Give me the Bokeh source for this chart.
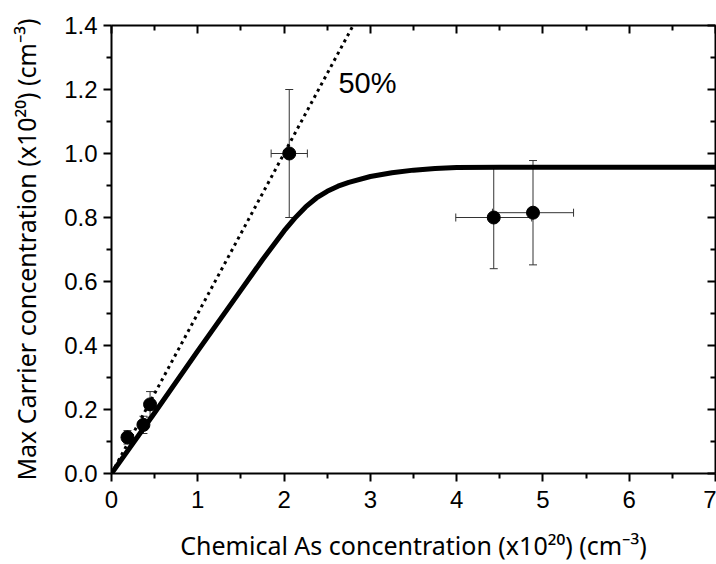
from bokeh.plotting import figure
from bokeh.models import (ColumnDataSource, Whisker, TeeHead, LinearAxis, CustomJSTickFormatter,
                          FixedTicker, NumeralTickFormatter, Range1d, Label)
from bokeh.embed import file_html
from bokeh.resources import INLINE

# ---------------- data ----------------
chem_as = [0.185, 0.37, 0.447, 2.06, 4.43, 4.885]
carrier = [0.113, 0.152, 0.216, 1.00, 0.80, 0.815]
x_err = [0.04, 0.05, 0.04, 0.21, 0.44, 0.47]
y_err = [0.021, 0.027, 0.04, 0.20, 0.16, 0.163]

fit_x = [0.0, 0.5, 1.0, 1.5, 1.75, 2.0, 2.125, 2.25, 2.375, 2.5, 2.625, 2.75, 3.0,
         3.25, 3.5, 3.75, 4.0, 4.5, 5.0, 6.0, 7.0]
fit_y = [0.0, 0.19, 0.383, 0.573, 0.668, 0.758, 0.798, 0.833, 0.861, 0.882, 0.898, 0.910, 0.928,
         0.940, 0.948, 0.953, 0.956, 0.957, 0.957, 0.957, 0.957]

line50_x = [0.0, 2.8]
line50_y = [0.0, 1.4]

x_title = "Chemical As concentration (x10\u00b2\u2070) (cm\u207b\u00b3)"
y_title = "Max Carrier concentration (x10\u00b2\u2070) (cm\u207b\u00b3)"

x_major = [0, 1, 2, 3, 4, 5, 6, 7]
x_minor = [0.5, 1.5, 2.5, 3.5, 4.5, 5.5, 6.5]
y_major = [0.0, 0.2, 0.4, 0.6, 0.8, 1.0, 1.2, 1.4]
y_minor = [0.1, 0.3, 0.5, 0.7, 0.9, 1.1, 1.3]

FONT = "Liberation Sans"
TITLE_FONT = "Noto Sans"

p = figure(width=716, height=564, x_range=Range1d(0, 7), y_range=Range1d(0, 1.4),
           output_backend="svg", toolbar_location=None,
           min_border_left=111, min_border_right=1, min_border_top=25, min_border_bottom=91)
p.grid.visible = False
p.outline_line_color = None
p.background_fill_color = "white"
p.border_fill_color = "white"

xt = FixedTicker(ticks=x_major, minor_ticks=x_minor)
yt = FixedTicker(ticks=y_major, minor_ticks=y_minor)

for ax in p.xaxis:
    ax.ticker = xt
    ax.axis_label = x_title
for ax in p.yaxis:
    ax.ticker = yt
    ax.formatter = NumeralTickFormatter(format="0.0")
    ax.axis_label = y_title

for ax in list(p.xaxis) + list(p.yaxis):
    ax.axis_line_width = 2
    ax.major_tick_line_width = 2
    ax.minor_tick_line_width = 2
    ax.major_tick_out = 8
    ax.major_tick_in = 0
    ax.minor_tick_out = 5
    ax.minor_tick_in = 0
    ax.major_label_text_font = FONT
    ax.major_label_text_font_size = "24px"
    ax.major_label_text_color = "black"
    ax.axis_line_color = "black"
    ax.major_tick_line_color = "black"
    ax.minor_tick_line_color = "black"
    ax.axis_label_text_font = TITLE_FONT
    ax.axis_label_text_font_size = "25px"
    ax.axis_label_text_font_style = "normal"
    ax.axis_label_text_color = "black"
p.xaxis.major_label_standoff = 9
p.yaxis.major_label_standoff = 6
p.xaxis.axis_label_standoff = 17
p.yaxis.axis_label_standoff = 18

blank = CustomJSTickFormatter(code="return ''")
for loc, tk in (("above", xt), ("right", yt)):
    a = LinearAxis(ticker=tk, formatter=blank, major_label_standoff=0,
                   major_label_text_font_size="1px",
                   major_tick_in=8, major_tick_out=0, minor_tick_in=5, minor_tick_out=0,
                   axis_line_width=2, major_tick_line_width=2, minor_tick_line_width=2)
    p.add_layout(a, loc)

# fitted curve and 50% line
p.line(fit_x, fit_y, line_color="black", line_width=5, line_join="round")
p.line(line50_x, line50_y, line_color="black", line_width=3, line_dash="3 4")

# error bars
src = ColumnDataSource(dict(
    x=chem_as, y=carrier,
    xl=[a - e for a, e in zip(chem_as, x_err)], xu=[a + e for a, e in zip(chem_as, x_err)],
    yl=[a - e for a, e in zip(carrier, y_err)], yu=[a + e for a, e in zip(carrier, y_err)],
))
for dim, base, lo, up in (("height", "x", "yl", "yu"), ("width", "y", "xl", "xu")):
    w = Whisker(source=src, base=base, lower=lo, upper=up, dimension=dim,
                line_color="#333333", line_width=1,
                lower_head=TeeHead(size=8, line_color="#333333", line_width=1),
                upper_head=TeeHead(size=8, line_color="#333333", line_width=1))
    p.add_layout(w)

p.scatter("x", "y", source=src, size=13, marker="circle", fill_color="black", line_color="black")

p.add_layout(Label(x=2.63, y=1.22, text="50%", text_font=FONT, text_font_size="29px",
                   text_color="black", text_baseline="alphabetic"))

open("out.html", "w").write(file_html(p, INLINE))
